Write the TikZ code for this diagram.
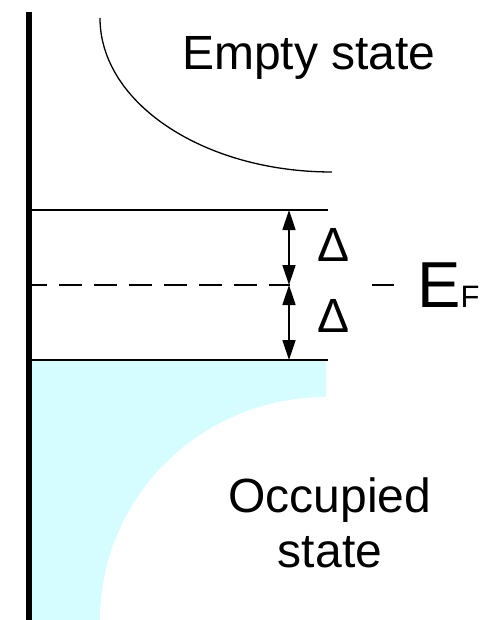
\documentclass[tikz,border=0pt]{standalone}
\usepackage{fontspec}
\setmainfont{Liberation Sans}
\usetikzlibrary{arrows.meta}
\definecolor{occfill}{RGB}{213,252,255}
\tikzset{
  thinline/.style={line width=1.5pt},
  dashline/.style={line width=1.5pt, dash pattern=on 23pt off 12pt, dash phase=2pt},
  gaparrow/.style={line width=1.5pt, {Triangle[length=20pt,width=13pt]}-{Triangle[length=20pt,width=13pt]}},
  bigtext/.style={inner sep=0pt, font=\fontsize{48}{55}\selectfont},
}
\begin{document}
\begin{tikzpicture}[x=1pt,y=-1pt]
\useasboundingbox (0,0) rectangle (500,620);
% occupied fill
\fill[occfill] (31,360) -- (326,360) -- (326,397)
  arc[start angle=90,end angle=180,x radius=226pt,y radius=223pt]
  -- (31,620) -- cycle;
% empty state curve
\draw[line width=1.3pt] (100,18) arc[start angle=180,end angle=270,x radius=232pt,y radius=154pt];
% level lines
\coordinate (topL) at (28,210);
\coordinate (topR) at (328,210);
\coordinate (botL) at (28,360);
\coordinate (botR) at (328,360);
\coordinate (efL) at (26,285);
\coordinate (efM) at (290,285);
\coordinate (efS) at (372,285);
\coordinate (efE) at (394,285);
\draw[thinline] (topL) -- (topR);
\draw[thinline] (botL) -- (botR);
\draw[dashline] (efL) -- (efM);
\draw[thinline] (efS) -- (efE);
% thick axis
\draw[line width=6pt] (28.5,12) -- (28.5,620);
% gap arrows
\coordinate (a1) at (289,210);
\coordinate (a2) at (289,285);
\coordinate (a3) at (289,360);
\draw[gaparrow] (a1) -- (a2);
\draw[gaparrow] (a2) -- (a3);
% labels
\node[bigtext, anchor=base west] (empty) at (182,70) {Empty state};
\node[bigtext, anchor=base west] (d1) at (317,261) {Δ};
\node[bigtext, anchor=base west] (d2) at (317,332) {Δ};
\node[inner sep=0pt, anchor=base west, font=\fontsize{65}{70}\selectfont] (ef) at (417,307) {E{\fontsize{31}{35}\selectfont F}};
\node[bigtext, anchor=base] (occ1) at (330,512) {Occupied};
\node[bigtext, anchor=base] (occ2) at (330,567) {state};
\end{tikzpicture}
\end{document}
